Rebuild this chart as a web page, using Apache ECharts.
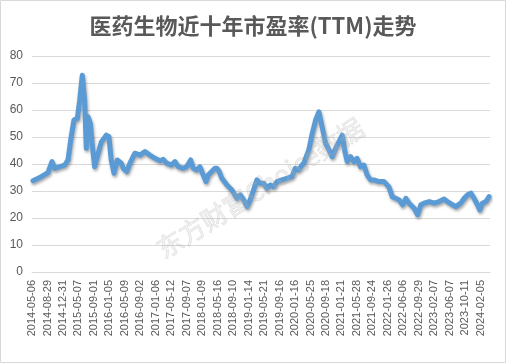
<!DOCTYPE html>
<html>
<head>
<meta charset="utf-8">
<script src="https://cdn.jsdelivr.net/npm/echarts@6/dist/echarts.min.js"></script>
<style>html,body{margin:0;padding:0;background:#fff;}#c{width:506px;height:363px;}</style>
</head>
<body>
<div id="c"></div>
<script>
const titleText = '医药生物近十年市盈率(TTM)走势';
const tickLabels = ['2014-05-06','2014-08-29','2014-12-31','2015-05-07','2015-09-01','2016-01-05','2016-05-09','2016-09-02','2017-01-06','2017-05-12','2017-09-07','2018-01-09','2018-05-16','2018-09-10','2019-01-14','2019-05-21','2019-09-16','2020-01-16','2020-05-25','2020-09-18','2021-01-21','2021-05-28','2021-09-24','2022-01-26','2022-06-06','2022-09-29','2023-02-07','2023-06-07','2023-10-11','2024-02-05'];
// position along the axis, 10 units per label step
const tradeIdx = [0.65,6.0,10.3,12.9,14.7,17.9,21.1,23.3,25.0,27.1,29.3,30.8,32.5,34.0,35.1,36.2,37.7,38.8,40.5,42.2,44.8,48.0,49.7,51.2,53.0,55.1,57.7,59.0,61.2,63.3,66.5,69.8,73.0,76.2,79.5,82.7,84.8,87.0,90.2,92.4,94.5,97.7,99.9,102.5,104.2,106.4,108.5,110.7,112.4,113.9,116.1,118.2,119.5,121.0,122.7,126.0,129.2,132.4,134.6,136.8,139.0,141.0,143.2,145.3,147.5,149.7,151.8,153.9,156.1,158.3,161.5,164.7,168.0,170.1,172.3,174.4,175.7,177.6,178.9,181.1,183.3,185.4,187.5,189.7,191.9,194.0,196.2,198.3,200.5,202.0,203.7,205.9,208.0,210.1,212.3,214.5,216.6,218.8,220.9,224.2,227.4,230.6,232.8,235.1,237.3,239.5,241.6,243.7,247.0,249.2,251.3,253.4,256.7,259.9,263.1,266.3,268.5,271.8,273.9,277.1,279.3,281.5,283.6,285.7,287.9,289.4,291.1,293.3,295.4];
const peValues = [33.8,35.3,36.8,40.9,38.4,39.0,39.6,41.5,48.9,56.3,56.9,63.6,72.9,63.6,45.8,57.5,55.1,47.8,39.0,42.7,48.2,50.7,50.1,41.5,36.6,41.5,40.3,38.4,37.2,40.3,44.0,43.3,44.6,43.3,42.1,41.2,41.7,40.3,39.6,40.9,39.0,38.4,39.0,41.5,38.4,37.8,39.0,35.9,33.5,35.9,37.2,38.4,38.4,37.2,34.7,32.2,30.4,27.3,28.6,26.7,24.2,26.7,30.4,34.1,32.9,32.9,31.0,32.2,31.6,33.5,34.1,34.7,35.3,38.4,37.8,39.6,40.3,43.3,45.2,51.3,56.3,59.3,53.8,47.7,45.2,42.7,45.8,48.2,50.7,45.2,40.9,42.7,40.9,42.1,39.0,39.6,35.9,34.1,34.1,33.5,33.5,31.6,27.9,27.3,26.7,24.9,27.3,25.5,23.6,21.2,24.9,25.5,26.1,25.5,26.1,27.0,26.1,24.9,24.2,25.5,27.3,28.6,29.2,27.3,24.9,23.0,25.5,26.1,27.9];
const yMin = 0, yMax = 80, yStep = 10;

const chart = echarts.init(document.getElementById('c'), null, {renderer:'canvas'});
const data = tradeIdx.map((x,i)=>[x, peValues[i]]);
chart.setOption({
  animation:false,
  backgroundColor:'#fff',
  title:{text:titleText,left:'center',top:10,textStyle:{fontFamily:'Noto Sans CJK SC',fontWeight:'bold',fontSize:22,color:'#595959'}},
  grid:{left:32,right:16,top:56,bottom:91,containLabel:false},
  xAxis:{type:'value',min:0,max:296,interval:10,
    axisLine:{show:true,lineStyle:{color:'#d9d9d9'}},axisTick:{show:false},splitLine:{show:false},
    axisLabel:{rotate:90,margin:8,fontSize:11,color:'#595959',fontFamily:'Liberation Sans',
      formatter:function(v){const k=Math.round(v/10);return Math.abs(v-k*10)<1e-6&&tickLabels[k]?tickLabels[k]:'';}}},
  yAxis:{type:'value',min:yMin,max:yMax,interval:yStep,
    axisLine:{show:false},axisTick:{show:false},
    splitLine:{lineStyle:{color:'#d9d9d9',width:1}},
    axisLabel:{margin:9,fontSize:12,color:'#595959',fontFamily:'Liberation Sans'}},
  graphic:[
    {type:'rect',shape:{x:0.5,y:0.5,width:505,height:362},style:{fill:'none',stroke:'#d9d9d9',lineWidth:1},silent:true,z:-1},
    {type:'text',x:260,y:188,rotation:32*Math.PI/180,style:{text:'东方财富Choice数据',fontSize:26,fontFamily:'Noto Sans CJK SC',fill:'rgba(190,190,190,0.15)',stroke:'rgba(170,170,170,0.3)',lineWidth:0.8,align:'center',verticalAlign:'middle'},silent:true,z:100}
  ],
  series:[{type:'line',data:data,showSymbol:false,symbol:'none',
    lineStyle:{color:'#5b9bd5',width:5,shadowColor:'rgba(0,0,0,0.35)',shadowBlur:3,shadowOffsetX:1,shadowOffsetY:2,join:'round',cap:'round'}}]
});
</script>
</body>
</html>
